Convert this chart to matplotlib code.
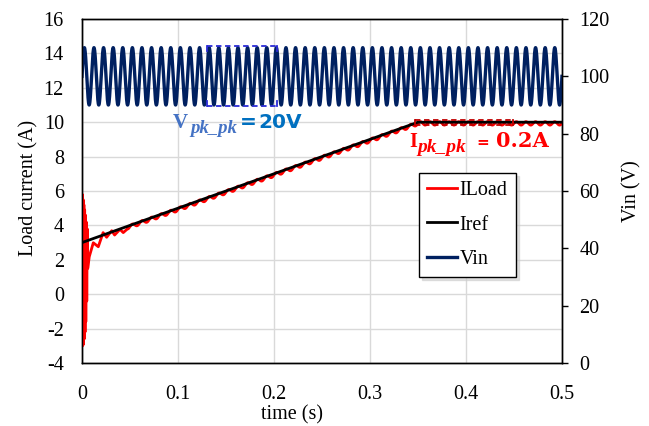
import numpy as np
import matplotlib
matplotlib.use("Agg")
import matplotlib.pyplot as plt

plt.rcParams["font.family"] = ["Liberation Serif", "DejaVu Serif"]
plt.rcParams["axes.unicode_minus"] = False

# reference current: ramp from 3 A to 10 A, then hold
iref_t = [0.0, 0.35, 0.5]
iref_a = [3.0, 10.0, 10.0]

# input voltage: 100 V with 20 V peak-to-peak ripple at 100 Hz
vin_dc = 100.0
vin_pkpk = 20.0
ripple_freq = 100.0

# load current: start-up ringing, then settles onto the reference
iload_start_t = [0.0, 0.0004, 0.0008, 0.0012, 0.0016, 0.0020, 0.0024, 0.0028,
                 0.0032, 0.0036, 0.0040, 0.0045, 0.0050, 0.0055, 0.0060,
                 0.0076, 0.0118, 0.0170, 0.0220, 0.0257, 0.0310, 0.0340,
                 0.0396, 0.0430, 0.0480]
iload_start_a = [3.0, 5.8, -3.0, 5.5, -2.9, 5.2, -2.6, 4.9,
                 -2.2, 4.6, -1.6, 4.2, -0.4, 3.8, 1.5,
                 2.18, 2.99, 2.76, 3.58, 3.31, 3.69, 3.44,
                 3.77, 3.58, 3.83]
iload_pkpk = 0.2
iload_offset = -0.07

x_ticks = [0, 0.1, 0.2, 0.3, 0.4, 0.5]
x_tick_labels = ["0", "0.1", "0.2", "0.3", "0.4", "0.5"]
i_ticks = list(range(-4, 17, 2))
v_ticks = list(range(0, 121, 20))

t = np.linspace(0, 0.5, 6001)
vin = vin_dc + vin_pkpk / 2 * np.sin(2 * np.pi * ripple_freq * t)

t_settled = t[t > iload_start_t[-1]]
iload_settled = (np.interp(t_settled, iref_t, iref_a) + iload_offset
                 + iload_pkpk / 2 * np.sin(2 * np.pi * ripple_freq * t_settled))
t_iload = np.concatenate([iload_start_t, t_settled])
iload = np.concatenate([iload_start_a, iload_settled])

fig = plt.figure(figsize=(6.49, 4.26), dpi=100)
ax = fig.add_axes([0.1263, 0.1479, 0.7396, 0.8075])
ax2 = ax.twinx()

l_iload, = ax.plot(t_iload, iload, color="#ff0000", lw=2.0, zorder=3)
l_iref, = ax.plot(iref_t, iref_a, color="black", lw=2.0, zorder=4)
l_vin, = ax2.plot(t, vin, color="#002060", lw=2.4)

ax.set_xlim(0, 0.5)
ax.set_ylim(-4, 16)
ax2.set_ylim(0, 120)
ax.set_xticks(x_ticks)
ax.set_xticklabels(x_tick_labels)
ax.set_yticks(i_ticks)
ax2.set_yticks(v_ticks)

ax.grid(True, color="#d9d9d9", lw=1.0)
ax.set_axisbelow(True)
ax.tick_params(axis="y", length=0, labelsize=14.5, pad=13)
ax.tick_params(axis="x", length=0, labelsize=14.5, pad=16)
ax2.tick_params(axis="y", direction="out", length=4.5, width=1,
                labelsize=14.5, pad=8)
for a in (ax, ax2):
    for s in a.spines.values():
        s.set_color("black")
        s.set_linewidth(1.0)

ax.set_xlabel("time (s)", fontsize=14.5)
ax.xaxis.set_label_coords(0.437, -0.124)
ax.set_ylabel("Load current (A)", fontsize=14.5)
ax.yaxis.set_label_coords(-0.09, 0.51)
ax2.set_ylabel("Vin (V)", fontsize=14.5)
ax2.yaxis.set_label_coords(1.125, 0.5)

# dashed brackets marking the ripple bands
vin_box_t = [0.130, 0.203]
vin_hi = vin_dc + vin_pkpk / 2 + 0.5
vin_lo = vin_dc - vin_pkpk / 2 - 0.5
for y, d in ((vin_hi, -1.8), (vin_lo, 1.8)):
    ax2.plot(vin_box_t, [y, y], color="#2b2bd6", lw=1.3, ls=(0, (3, 2)), zorder=5)
    for x in vin_box_t:
        ax2.plot([x, x], [y, y + d], color="#2b2bd6", lw=1.3, zorder=5)

il_box_t = [0.347, 0.449]
il_hi = iref_a[-1] + iload_pkpk / 2
il_lo = iref_a[-1] - iload_pkpk / 2 - 0.05
for y, d in ((il_hi, -0.08), (il_lo, 0.08)):
    ax.plot(il_box_t, [y, y], color="#c00000", lw=1.3, ls=(0, (3, 2)), zorder=5)
    for x in il_box_t:
        ax.plot([x, x], [y, y + d], color="#c00000", lw=1.3, zorder=5)

# ripple annotations, set piece by piece
v_light = "#4472c4"
v_dark = "#0070c0"
ax.text(0.0948, 9.645, "V", color=v_light, fontsize=15, fontweight="bold")
ax.text(0.1125, 9.355, "pk_pk", color=v_light, fontsize=13.5,
        fontweight="bold", fontstyle="italic")
ax.text(0.1646, 9.645, "=", color=v_dark, fontsize=14.5, fontweight="bold",
        family="DejaVu Sans")
ax.text(0.1833, 9.645, f"{vin_pkpk:.0f}V", color=v_dark, fontsize=14.5,
        fontweight="bold", family="DejaVu Sans")

i_red = "#ff0000"
ax.text(0.3406, 8.575, "I", color=i_red, fontsize=14.5, fontweight="bold")
ax.text(0.349, 8.285, "pk_pk", color=i_red, fontsize=14,
        fontweight="bold", fontstyle="italic")
ax.text(0.4105, 8.575, "=", color=i_red, fontsize=11, fontweight="bold",
        family="DejaVu Serif")
ax.text(0.4312, 8.575, f"{iload_pkpk:.1f}A", color=i_red, fontsize=15,
        fontweight="bold", family="DejaVu Serif")

leg = ax2.legend([l_iload, l_iref, l_vin], ["ILoad", "Iref", "Vin"],
                 loc="upper left", bbox_to_anchor=(0.702, 0.553),
                 fontsize=14.5, frameon=True, fancybox=False, framealpha=1,
                 edgecolor="black", handlelength=1.45, handletextpad=0.15,
                 labelspacing=0.75, borderpad=0.42, borderaxespad=0,
                 shadow={"color": "0.8", "alpha": 0.6})
leg.get_frame().set_linewidth(1.0)

fig.savefig("out.png", dpi=100, facecolor="white")
